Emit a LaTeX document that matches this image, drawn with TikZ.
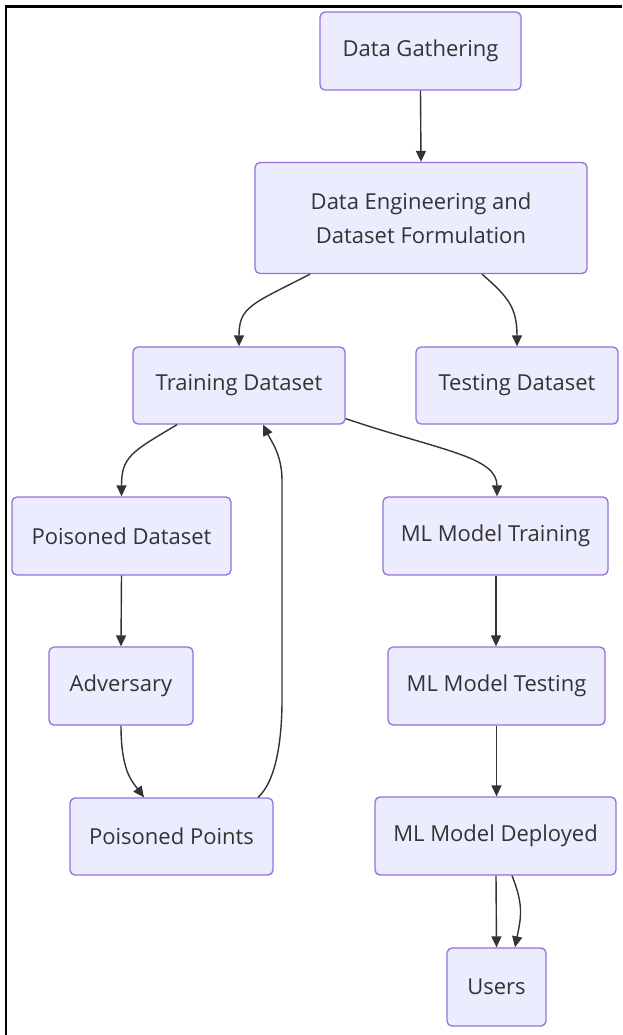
\documentclass[tikz,border=0pt]{standalone}
\usepackage{fontspec}
\setmainfont{Open Sans}
\usetikzlibrary{arrows.meta}
\definecolor{boxfill}{HTML}{ECECFF}
\definecolor{boxline}{HTML}{9370DB}
\definecolor{ink}{HTML}{333333}
\tikzset{
  stage/.style={draw=boxline, fill=boxfill, line width=1.3pt, rounded corners=5pt,
    text=ink, align=center, inner sep=0pt,
    font=\fontsize{22}{34}\selectfont},
  flow/.style={draw=ink, line width=1.4pt, -{Triangle[length=11pt,width=10pt]}},
}
\begin{document}
\begin{tikzpicture}[x=1pt,y=-1pt]
\useasboundingbox (0,0) rectangle (622,1035);
% frame
\draw[line width=2.2pt] (6,1035) -- (6,6.5) -- (622,6.5);

% stages
\node[stage, minimum width=201pt, minimum height=78pt]  (dg)    at (420.5,51)  {Data Gathering};
\node[stage, minimum width=332pt, minimum height=111pt] (def)   at (421,218)   {Data Engineering and\\Dataset Formulation};
\node[stage, minimum width=212pt, minimum height=77pt]  (train) at (239,385.5) {Training Dataset};
\node[stage, minimum width=202pt, minimum height=77pt]  (test)  at (517,385.5) {Testing Dataset};
\node[stage, minimum width=219pt, minimum height=78pt]  (pds)   at (121.5,536) {Poisoned Dataset};
\node[stage, minimum width=225pt, minimum height=78pt]  (mltr)  at (495.5,536) {ML Model Training};
\node[stage, minimum width=144pt, minimum height=78pt]  (adv)   at (121,686)   {Adversary};
\node[stage, minimum width=217pt, minimum height=78pt]  (mlte)  at (496.5,686) {ML Model Testing};
\node[stage, minimum width=203pt, minimum height=77pt]  (pp)    at (171.5,836.5) {Poisoned Points};
\node[stage, minimum width=241pt, minimum height=78pt]  (mld)   at (495.5,836) {ML Model Deployed};
\node[stage, minimum width=99pt,  minimum height=78pt]  (users) at (496.5,987) {Users};

% bend points of the feedback edge
\coordinate (fbLow)  at (282,700);
\coordinate (fbHigh) at (282,480);

% connectors
\draw[flow] (dg.south) -- (def.north);
\draw[flow] ([xshift=-111pt]def.south) .. controls +(-58,30) and +(0,-40) .. (train.north);
\draw[flow] ([xshift=61pt]def.south) .. controls +(25,22) and +(0,-40) .. (test.north);
\draw[flow] ([xshift=-62pt]train.south) .. controls +(-45,27) and +(0,-40) .. (pds.north);
\draw[flow] ([yshift=6pt]train.south east) .. controls +(95,32) and +(0,-40) .. ([xshift=1.5pt]mltr.north);
\draw[flow] ([xshift=86.5pt]pp.north) .. controls +(18,-16) and +(0,40) .. (fbLow) -- (fbHigh)
  .. controls +(0,-25) and +(8,16) .. ([xshift=24pt]train.south);
\draw[flow] (pds.south) -- (adv.north);
\draw[flow] (adv.south) .. controls +(0,45) and +(-12,-16) .. ([xshift=-27.5pt]pp.north);
\draw[flow] ([xshift=0.5pt]mltr.south) -- ([xshift=-0.5pt]mlte.north);
\draw[flow] (mlte.south) -- ([xshift=1pt]mld.north);
\draw[flow] ([xshift=0.5pt]mld.south) -- (users.north);
\draw[flow] ([xshift=16.5pt]mld.south) .. controls +(12,30) and +(6,-30) .. ([xshift=18.5pt]users.north);
\end{tikzpicture}
\end{document}
